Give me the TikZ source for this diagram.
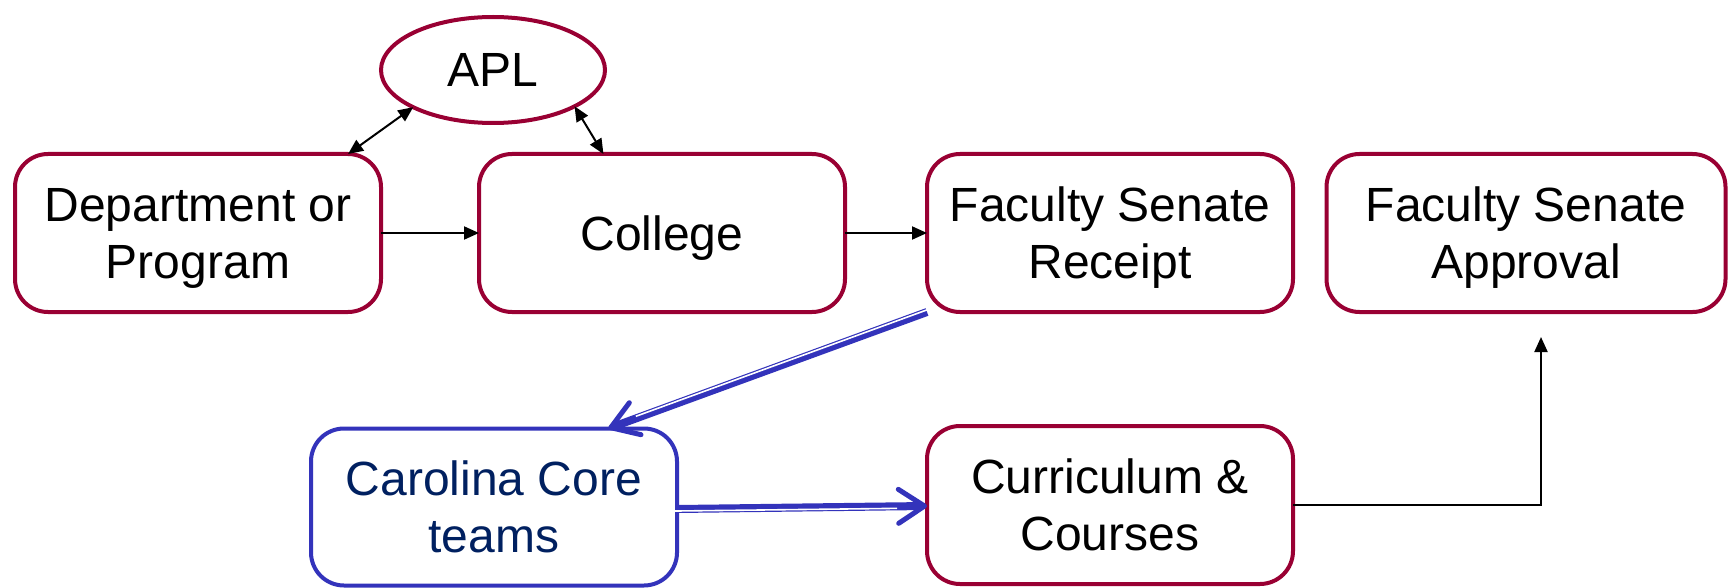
\documentclass[tikz,border=0pt]{standalone}
\usepackage{fontspec}
\setmainfont{Liberation Sans}
\usetikzlibrary{arrows.meta,calc,shapes.geometric}
\definecolor{maroon}{RGB}{153,0,51}
\definecolor{cblue}{RGB}{51,51,187}
\definecolor{navy}{RGB}{0,32,96}
\begin{document}
\begin{tikzpicture}[x=1pt,y=-1pt,
  box/.style={draw=maroon, line width=4pt, rounded corners=33pt, minimum width=366pt,
    minimum height=158pt, align=center, font=\fontsize{48}{57}\selectfont,
    text depth=0pt, inner sep=0pt, outer sep=0pt},
  bluebox/.style={box, draw=cblue, text=navy},
  blk/.style={draw=black, line width=2pt, -{Triangle[length=15pt,width=13pt]}},
  blk2/.style={draw=black, line width=2pt, {Triangle[length=15pt,width=13pt]}-{Triangle[length=15pt,width=13pt]}},
  dbl/.style={draw=cblue, line width=8pt,
    -{Straight Barb[length=26pt,width=34pt,line width=5pt,round]}},
  gap/.style={draw=white, line width=1.6pt, shorten >=30pt, shorten <=-2pt}
]
\useasboundingbox (0,0) rectangle (1731,588);
\fill[white] (0,0) rectangle (1731,588);

\node[box] (dept) at (198,233) {Department or\\Program};
\node[box] (college) at (662,233) {College};
\node[box] (fsr) at (1110,233) {Faculty Senate\\Receipt};
\node[box, minimum width=399pt] (fsa) at (1526,233) {Faculty Senate\\Approval};
\node[bluebox, minimum height=157pt] (cc) at (494,507) {Carolina Core\\teams};
\node[box] (cur) at (1110,505) {Curriculum \&\\Courses};
\node[draw=maroon, line width=4pt, ellipse, minimum width=224pt, minimum height=106pt,
  inner sep=0pt, outer sep=0pt, font=\fontsize{48}{57}\selectfont] (apl) at (493,70) {APL};

\coordinate (deptIn) at ($(dept.north)!0.82!(dept.north east)$);
\coordinate (colIn) at ($(college.north)!0.32!(college.north west)$);
\coordinate (ccIn) at ($(cc.north)!0.625!(cc.north east)$);
\coordinate (fsaIn) at (1541,337);
\coordinate (ccOut) at ($(cc.east)+(0,2)$);
\coordinate (curIn) at ($(cur.west)+(0,1)$);

\draw[blk2] (apl.205) -- (deptIn);
\draw[blk2] (apl.336) -- (colIn);
\draw[blk] (dept.east) -- (college.west);
\draw[blk] (college.east) -- (fsr.west);

\draw[dbl] (fsr.south west) -- (ccIn);
\draw[gap] ($(fsr.south west)+(-0.7,-1.9)$) -- ($(ccIn)+(-0.7,-1.9)$);
\draw[dbl] (ccOut) -- (curIn);
\draw[gap] ($(ccOut)+(0,2)$) -- ($(curIn)+(0,2)$);

\draw[blk] (cur.east) -| (fsaIn);
\end{tikzpicture}
\end{document}
